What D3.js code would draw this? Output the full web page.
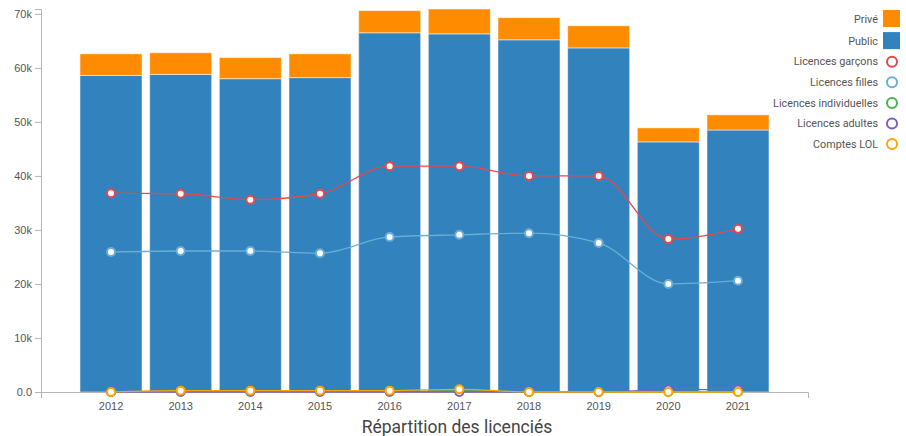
<!DOCTYPE html>
<html>
<head>
<meta charset="utf-8">
<script src="https://cdn.jsdelivr.net/npm/d3@7"></script>
<style>
  body { margin: 0; background: #fff; }
  svg { font-family: Roboto, "Noto Sans", sans-serif; }
  .axis path, .axis line { stroke: #b5b5b5; }
  .axis text { fill: #555; font-size: 11px; }
</style>
</head>
<body>
<div id="chart"></div>
<script>
var years = ["2012", "2013", "2014", "2015", "2016", "2017", "2018", "2019", "2020", "2021"];
var publicVals = [58600, 58800, 58000, 58200, 66500, 66300, 65200, 63700, 46300, 48500];
var priveVals  = [4000, 4000, 3900, 4400, 4100, 4600, 4100, 4100, 2600, 2800];
var garcons    = [36800, 36700, 35600, 36700, 41800, 41800, 40000, 40000, 28300, 30200];
var filles     = [25900, 26100, 26100, 25700, 28700, 29100, 29400, 27600, 20000, 20600];
var individuelles = [0, 150, 150, 150, 150, 200, 0, 0, 0, 0];
var adultes    = [0, 0, 0, 0, 0, 0, 0, 0, 450, 450];
var comptesLOL = [0, 250, 250, 250, 250, 500, 0, 0, 0, 0];

var lineSeries = [
  { name: "Licences garçons", values: garcons, color: "#e5484d" },
  { name: "Licences filles", values: filles, color: "#6aaed6" },
  { name: "Licences individuelles", values: individuelles, color: "#4caf50" },
  { name: "Licences adultes", values: adultes, color: "#7b5fb8" },
  { name: "Comptes LOL", values: comptesLOL, color: "#ffa500" }
];
var barSeries = [
  { key: "public", name: "Public", color: "#3182bd" },
  { key: "prive", name: "Privé", color: "#ff8c00" }
];

var width = 906, height = 436;
var margin = { left: 41, right: 98, top: 9, bottom: 44 };

var svg = d3.select("#chart").append("svg")
    .attr("width", width)
    .attr("height", height);

var table = years.map(function (y, i) {
  return { year: y, public: publicVals[i], prive: priveVals[i] };
});

var x = d3.scaleBand()
    .domain(years)
    .range([margin.left, width - margin.right])
    .paddingInner(0.11)
    .paddingOuter(0.56);

var yMax = d3.max(table, function (d) { return d.public + d.prive; });
var y = d3.scaleLinear()
    .domain([0, yMax])
    .range([height - margin.bottom, margin.top]);

// bars
var stack = d3.stack().keys(["public", "prive"]);
var layers = stack(table);

svg.selectAll(".layer")
    .data(layers)
    .enter().append("g")
    .attr("class", "layer")
    .attr("fill", function (d, i) { return barSeries[i].color; })
    .selectAll("rect")
    .data(function (d) { return d; })
    .enter().append("rect")
    .attr("x", function (d) { return x(d.data.year); })
    .attr("y", function (d) { return y(d[1]); })
    .attr("width", x.bandwidth())
    .attr("height", function (d) { return y(d[0]) - y(d[1]); })
    .attr("stroke", "#fff")
    .attr("stroke-opacity", 0.5)
    .attr("stroke-width", 1);

// axes
svg.append("g")
    .attr("class", "axis")
    .attr("transform", "translate(0," + y(0) + ")")
    .call(d3.axisBottom(x).tickSizeInner(0).tickSizeOuter(6).tickPadding(10));

svg.append("g")
    .attr("class", "axis")
    .attr("transform", "translate(" + margin.left + ",0)")
    .call(d3.axisLeft(y).ticks(7).tickFormat(d3.format(".2s")).tickSizeOuter(6));

// lines
var line = d3.line()
    .x(function (d, i) { return x(years[i]) + x.bandwidth() / 2; })
    .y(function (d) { return y(d); })
    .curve(d3.curveMonotoneX);

var lineOrder = [2, 3, 4, 1, 0];
lineOrder.forEach(function (k) {
  var s = lineSeries[k];
  var g = svg.append("g");
  g.append("path")
      .attr("d", line(s.values))
      .attr("fill", "none")
      .attr("stroke", s.color)
      .attr("stroke-width", 1.3);
  g.selectAll("circle")
      .data(s.values)
      .enter().append("circle")
      .attr("cx", function (d, i) { return x(years[i]) + x.bandwidth() / 2; })
      .attr("cy", function (d) { return y(d); })
      .attr("r", 4)
      .attr("fill", "#fff")
      .attr("stroke", s.color)
      .attr("stroke-width", 2);
});

// legend
var legendItems = [
  { name: "Privé", color: "#ff8c00", type: "rect" },
  { name: "Public", color: "#3182bd", type: "rect" }
].concat(lineSeries.map(function (s) { return { name: s.name, color: s.color, type: "circle" }; }));

var legend = svg.append("g").attr("transform", "translate(878,19)");
var rows = legend.selectAll(".row")
    .data(legendItems)
    .enter().append("g")
    .attr("class", "row")
    .attr("transform", function (d, i) { return "translate(0," + (i * 20.6 + (i > 0 ? 1.5 : 0)) + ")"; });

rows.append("text")
    .attr("text-anchor", "end")
    .attr("dy", "0.35em")
    .attr("fill", "#555")
    .attr("font-size", "10.8px")
    .text(function (d) { return d.name; });

rows.filter(function (d) { return d.type === "rect"; })
    .append("rect")
    .attr("x", 5)
    .attr("y", -9)
    .attr("width", 17)
    .attr("height", 17)
    .attr("fill", function (d) { return d.color; });

rows.filter(function (d) { return d.type === "circle"; })
    .append("circle")
    .attr("cx", 14)
    .attr("cy", 0)
    .attr("r", 5)
    .attr("fill", "none")
    .attr("stroke", function (d) { return d.color; })
    .attr("stroke-width", 2);

// title
svg.append("text")
    .attr("x", 457)
    .attr("y", 433)
    .attr("text-anchor", "middle")
    .attr("fill", "#444")
    .attr("font-size", "17.5px")
    .text("Répartition des licenciés");
</script>
</body>
</html>
